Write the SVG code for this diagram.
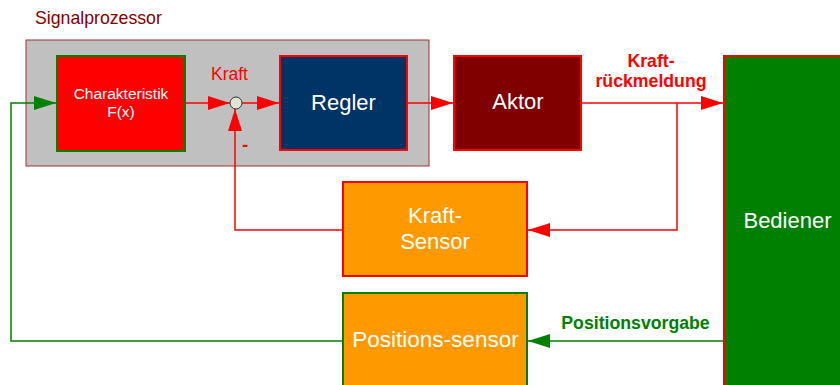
<svg xmlns="http://www.w3.org/2000/svg" width="840" height="385" viewBox="0 0 840 385">
<style>
.lbl{font-family:"Liberation Sans",Arial,sans-serif;fill:#fff;text-anchor:middle;font-size:22px}
.sm{font-size:15.5px}
.red{stroke:#ff0000;stroke-width:1.5;fill:none}
.grn{stroke:#008000;stroke-width:1.5;fill:none}
.bold{font-family:"Liberation Sans",Arial,sans-serif;font-weight:bold;font-size:17.7px;text-anchor:middle}
</style>
<defs>
<marker id="ar" markerUnits="userSpaceOnUse" markerWidth="24" markerHeight="16" refX="22" refY="7" orient="auto"><path d="M0,0 L22,7 L0,14 Z" fill="#ff0000"/></marker>
<marker id="ag" markerUnits="userSpaceOnUse" markerWidth="24" markerHeight="16" refX="22" refY="7" orient="auto"><path d="M0,0 L22,7 L0,14 Z" fill="#008000"/></marker>
</defs>
<rect width="840" height="385" fill="#fff"/>
<g id="signalprozessor">
<rect x="26" y="40" width="403" height="126" fill="#c0c0c0" stroke="#993333" stroke-width="1"/>
<text x="35" y="23.5" font-family="Liberation Sans,Arial,sans-serif" font-size="17.7" fill="#800000">Signalprozessor</text>
</g>
<g id="connectors">
<line x1="185" y1="103" x2="230" y2="103" class="red" marker-end="url(#ar)"/>
<line x1="242" y1="103" x2="279" y2="103" class="red" marker-end="url(#ar)"/>
<line x1="407" y1="103" x2="453" y2="103" class="red" marker-end="url(#ar)"/>
<line x1="581" y1="103" x2="723" y2="103" class="red" marker-end="url(#ar)"/>
<polyline points="677,103 677,230 528,230" class="red" marker-end="url(#ar)"/>
<polyline points="343,230 235,230 235,109" class="red" marker-end="url(#ar)"/>
<line x1="724" y1="341" x2="528" y2="341" class="grn" marker-end="url(#ag)"/>
<polyline points="343,341 11,341 11,103 56,103" class="grn" marker-end="url(#ag)"/>
<text x="229.5" y="80" font-family="Liberation Sans,Arial,sans-serif" font-size="17.5" fill="#ff0000" text-anchor="middle">Kraft</text>
<text x="245" y="151" font-family="Liberation Sans,Arial,sans-serif" font-size="18" font-weight="bold" fill="#ff0000" text-anchor="middle">-</text>
<text x="651" y="67" class="bold" fill="#ff0000">Kraft-</text>
<text x="651" y="87" class="bold" fill="#ff0000">rückmeldung</text>
<text x="635.5" y="329" class="bold" fill="#008000">Positionsvorgabe</text>
</g>
<g id="summation">
<circle cx="236" cy="103" r="6" fill="#e0e4d4" stroke="#333" stroke-width="1"/>
</g>
<g id="charakteristik">
<rect x="57" y="56" width="128" height="95" fill="#ff0000" stroke="#008000" stroke-width="2"/>
<text x="121" y="99" class="lbl sm">Charakteristik</text>
<text x="121" y="117" class="lbl sm">F(x)</text>
</g>
<g id="regler">
<rect x="280" y="56" width="127" height="94" fill="#003366" stroke="#ff0000" stroke-width="2"/>
<text x="343.5" y="110" class="lbl">Regler</text>
</g>
<g id="aktor">
<rect x="454" y="56" width="127" height="94" fill="#800000" stroke="#ff0000" stroke-width="2"/>
<text x="518" y="109" class="lbl">Aktor</text>
</g>
<g id="bediener">
<rect x="724" y="56" width="130" height="340" fill="#008000" stroke="#ff0000" stroke-width="2"/>
<text x="787.5" y="228" class="lbl">Bediener</text>
</g>
<g id="kraftsensor">
<rect x="343" y="182" width="184" height="94" fill="#ff9900" stroke="#ff0000" stroke-width="2"/>
<text x="435" y="223" class="lbl">Kraft-</text>
<text x="435" y="249" class="lbl">Sensor</text>
</g>
<g id="positionssensor">
<rect x="343" y="293" width="184" height="100" fill="#ff9900" stroke="#008000" stroke-width="2"/>
<text x="435.5" y="347" class="lbl" style="font-size:22.5px">Positions-sensor</text>
</g>
</svg>
